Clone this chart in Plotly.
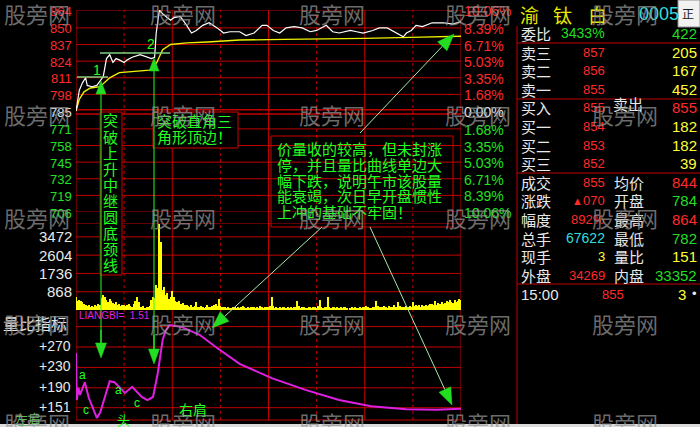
import math
import plotly.graph_objects as go

W, H = 700, 427

# ------------------------------------------------------------------ data
price_ticks = [864, 850, 837, 824, 811, 798, 785, 771, 758, 745, 732, 719, 706]
pct_ticks = ["10.06%", "8.39%", "6.71%", "5.03%", "3.35%", "1.68%", "0.00%",
             "1.68%", "3.35%", "5.03%", "6.71%", "8.39%", "10.06%"]
vol_ticks = [3472, 2604, 1736, 868]
lb_ticks = [270, 230, 190, 151]
lb_tick_text = ["+270", "+230", "+190", "+151"]

price_min = [0, 1, 2, 4, 6, 7, 10, 13, 15, 17, 19, 21, 23, 25, 27, 30, 32, 35, 40, 44,
             47, 49, 50, 52, 54, 57, 59, 61, 65, 69, 72, 75, 79, 83, 88, 92, 96, 102, 106, 111,
             116, 119, 123, 127, 131, 136, 141, 146, 150, 156, 160, 164, 171, 175, 179, 185, 189, 194, 198, 202,
             204, 206, 209, 212, 216, 222, 229, 235, 240]
price_val = [785, 795, 801, 807, 811, 805, 804, 805, 809, 812, 826, 829, 823, 826, 825, 823, 825, 827, 829, 827,
             826, 827, 846, 864, 861, 858, 856, 858, 859, 852, 846, 848, 852, 854, 850, 846, 847, 847, 844, 846,
             852, 852, 848, 846, 850, 851, 850, 847, 848, 852, 847, 846, 848, 847, 846, 848, 850, 850, 847, 844,
             843, 846, 848, 852, 851, 854, 854, 853, 855]

avg_min = [0, 2, 5, 9, 15, 21, 27, 35, 46, 50, 52, 54, 59, 69, 82, 102, 130, 152, 180, 215, 240]
avg_val = [785, 794, 800, 803, 804, 811, 815, 816, 817, 822, 828, 833, 837, 838.3, 839, 840.5, 841,
           841.3, 841.8, 842.8, 843.5]

volume = [
    620, 450, 480, 420, 380, 300, 260, 180, 220, 150,
    200, 160, 240, 180, 280, 220, 560, 720, 640, 480,
    380, 520, 430, 320, 280, 360, 250, 300, 200, 260,
    220, 180, 240, 300, 200, 160, 280, 450, 620, 380,
    150, 120, 180, 100, 140, 130, 200, 480, 600, 560,
    1200, 1050, 4100, 3220, 950, 1100, 720, 800, 520, 640,
    880, 600, 420, 360, 450, 300, 280, 340, 220, 260,
    180, 150, 240, 130, 200, 400, 160, 120, 180, 140,
    100, 160, 220, 120, 140, 180, 260, 300, 200, 520,
    180, 140, 120, 160, 100, 130, 90, 110, 150, 120,
    80, 140, 110, 160, 200, 120, 90, 130, 100, 150,
    120, 160, 90, 140, 110, 180, 130, 100, 160, 120,
    140, 200, 600, 180, 110, 150, 90, 120, 100, 140,
    130, 90, 160, 110, 120, 100, 150, 130, 420, 170,
    90, 120, 140, 100, 110, 160, 130, 90, 120, 140,
    110, 180, 460, 130, 100, 150, 120, 620, 140, 100,
    160, 120, 90, 140, 110, 130, 100, 150, 120, 90,
    0, 80, 120, 100, 140, 90, 110, 130, 100, 150,
    120, 200, 140, 110, 90, 160, 130, 420, 180, 140,
    160, 120, 200, 140, 110, 180, 130, 150, 220, 160,
    140, 400, 180, 120, 160, 140, 200, 130, 180, 160,
    360, 200, 250, 180, 220, 160, 240, 200, 260, 180,
    220, 280, 300, 240, 420, 260, 320, 280, 380, 300,
    340, 420, 360, 460, 400, 320, 480, 380, 440, 500,
    460]
vol_min = list(range(len(volume)))

lb_min = [0, 0.5, 1.5, 2.5, 5.5, 8, 13, 15, 18, 21, 24, 27.5, 30.5, 35, 38.5, 41, 44.5, 48, 51, 54,
          56, 58.5, 66, 77, 88, 102, 122, 143, 164, 184, 206, 225, 240]
lb_val = [258, 166, 190, 176, 201, 170, 131, 141, 172, 203, 201, 190, 180, 192, 180, 172, 166, 172, 219, 284,
          303, 313, 309, 294, 268, 237, 209, 186, 166, 154, 148, 147, 149]

stock_name = ["渝", "钛", "白"]
stock_code = "0005"
q_labels = ["委比", "卖三", "卖二", "卖一", "买入", "买一", "买二", "买三",
            "成交", "涨跌", "幅度", "总手", "现手", "外盘"]
q_mid_values = ["3433%", "857", "856", "855", "855", "854", "853", "852",
                "855", "070", "892%", "67622", "3", "34269"]
q_mid_labels = ["", "", "", "", "卖出", "", "", "", "均价", "开盘", "最高", "最低", "量比", "内盘"]
q_right_values = ["422", "205", "167", "452", "855", "182", "182", "39",
                  "844", "784", "864", "782", "151", "33352"]
last_row = ["15:00", "855", "3"]

note1 = "突破上升中继圆底颈线"
note2 = ["突破直角三", "角形顶边！"]
note3 = ["价量收的较高，但未封涨", "停，并且量比曲线单边大", "幅下跌，说明午市该股量",
         "能衰竭，次日早开盘惯性", "上冲的基础不牢固！"]

# ------------------------------------------------------------------ styles
RED = "#c00000"
TXT_RED = "#ff2a2a"
TXT_GREEN = "#22e022"
GREEN = "#22ff22"
WHITE = "#e8e8e8"
YELLOW = "#ffff33"
CYAN = "#33dddd"
MAG = "#e020e0"
CJK = "Noto Sans CJK SC"
NUM = "Liberation Sans"

mid_colors = ["#22dd22", TXT_RED, TXT_RED, TXT_RED, TXT_RED, TXT_RED, TXT_RED, TXT_RED,
              TXT_RED, TXT_RED, TXT_RED, CYAN, YELLOW, TXT_RED]
right_colors = ["#22dd22", YELLOW, YELLOW, YELLOW, TXT_RED, YELLOW, YELLOW, YELLOW,
                TXT_RED, "#22dd22", TXT_RED, "#22dd22", YELLOW, "#22dd22"]


def xp(px):
    return px / W


def yp(py):
    return 1 - py / H


L_PX, R_PX = 76, 461

fig = go.Figure()
fig.add_trace(go.Bar(x=vol_min, y=volume, width=0.7, marker=dict(color="#ffff00", line=dict(width=0)),
                     xaxis="x", yaxis="y2"))
fig.add_trace(go.Scatter(x=avg_min, y=avg_val, mode="lines", line=dict(color="#f0f000", width=1.4),
                         xaxis="x", yaxis="y"))
fig.add_trace(go.Scatter(x=price_min, y=price_val, mode="lines", line=dict(color="#ffffff", width=1.2),
                         xaxis="x", yaxis="y"))
fig.add_trace(go.Scatter(x=lb_min, y=lb_val, mode="lines", line=dict(color=MAG, width=2),
                         xaxis="x", yaxis="y3"))

shapes = []


def hline_px(py, x0=L_PX, x1=R_PX, color=RED, width=1, dash="solid", layer="below"):
    shapes.append(dict(type="line", xref="paper", yref="paper", x0=xp(x0), x1=xp(x1), y0=yp(py), y1=yp(py),
                       line=dict(color=color, width=width, dash=dash), layer=layer))


def line_px(x0, y0, x1, y1, color, width=1, dash="solid", layer="above"):
    shapes.append(dict(type="line", xref="paper", yref="paper", x0=xp(x0), x1=xp(x1), y0=yp(y0), y1=yp(y1),
                       line=dict(color=color, width=width, dash=dash), layer=layer))


# vertical grid (hours solid, half hours dotted)
for k in range(9):
    shapes.append(dict(type="line", xref="x", yref="paper", x0=k * 30, x1=k * 30, y0=yp(420), y1=yp(10),
                       line=dict(color=RED, width=1, dash="solid" if k % 2 == 0 else "dot"), layer="below"))
# price grid
for v in price_ticks:
    if v == 785:
        continue
    shapes.append(dict(type="line", xref="paper", yref="y", x0=xp(L_PX), x1=xp(R_PX), y0=v, y1=v,
                       line=dict(color=RED, width=1), layer="below"))
for v in (786, 782.6):
    shapes.append(dict(type="line", xref="paper", yref="y", x0=xp(L_PX), x1=xp(R_PX), y0=v, y1=v,
                       line=dict(color=RED, width=1.5), layer="below"))
# volume grid
for v in vol_ticks + [4130, 0]:
    shapes.append(dict(type="line", xref="paper", yref="y2", x0=xp(L_PX), x1=xp(R_PX), y0=v, y1=v,
                       line=dict(color=RED, width=1), layer="below"))
# indicator grid
for v in lb_ticks + [310]:
    shapes.append(dict(type="line", xref="paper", yref="y3", x0=xp(L_PX), x1=xp(R_PX), y0=v, y1=v,
                       line=dict(color=RED, width=1), layer="below"))
hline_px(420)

# right quote panel lines
line_px(517, 26, 517, 427, RED, 1, layer="below")
for py in (43, 99, 173, 284):
    hline_px(py, 517, 700)

# note boxes
shapes.append(dict(type="rect", xref="paper", yref="paper", x0=xp(100), x1=xp(122), y0=yp(275), y1=yp(112),
                   line=dict(color="#d00000", width=1), fillcolor="black", layer="above"))
shapes.append(dict(type="rect", xref="paper", yref="paper", x0=xp(153), x1=xp(238), y0=yp(148), y1=yp(112),
                   line=dict(color="#d00000", width=1), fillcolor="black", layer="above"))
shapes.append(dict(type="rect", xref="paper", yref="paper", x0=xp(271), x1=xp(453), y0=yp(227), y1=yp(136),
                   line=dict(color="#d00000", width=1), layer="above"))

# green drawing marks
line_px(77, 77, 108, 77, "#80d080", 1.5)
line_px(100, 53, 170, 53, "#80d080", 1.5)
line_px(101, 92, 101, 345, GREEN, 1)
line_px(154, 69, 154, 350, GREEN, 1)


def P(px, py):
    return f"{xp(px):.5f},{yp(py):.5f}"


def tri(points, color):
    (a, b, c) = points
    shapes.append(dict(type="path", xref="paper", yref="paper",
                       path=f"M {P(*a)} L {P(*b)} L {P(*c)} Z",
                       fillcolor=color, line=dict(color=color, width=0.5), layer="above"))


tri([(101, 81), (96, 94), (106, 94)], "#22dd22")
tri([(154, 58), (149, 71), (159, 71)], "#22dd22")


def arrow(tail, tip, color_line, head_len=15, half_w=5.5):
    dx, dy = tip[0] - tail[0], tip[1] - tail[1]
    d = math.hypot(dx, dy)
    ux, uy = dx / d, dy / d
    bx, by = tip[0] - head_len * ux, tip[1] - head_len * uy
    line_px(tail[0], tail[1], bx, by, color_line, 1)
    nx, ny = -uy, ux
    tri([tip, (bx + half_w * nx, by + half_w * ny), (bx - half_w * nx, by - half_w * ny)], "#22dd22")


arrow((101, 330), (101, 358), GREEN)
arrow((154, 335), (154, 364), GREEN)
arrow((360, 133), (454, 34), "#a8e8a8", 17, 6.5)
arrow((370, 227), (452, 405), "#a8e8a8", 17, 6.5)
arrow((322, 227), (212, 328), "#a8e8a8", 17, 6.5)

# bottom light strip and code box
shapes.append(dict(type="rect", xref="paper", yref="paper", x0=0, x1=1, y0=0, y1=yp(424),
                   line=dict(width=0), fillcolor="#dcdcdc", layer="above"))
shapes.append(dict(type="rect", xref="paper", yref="paper", x0=xp(678), x1=1, y0=yp(27), y1=1,
                   line=dict(color="#909090", width=1), fillcolor="#f2f2f2", layer="above"))

ann = []


def txt(s, px, py, color, size, anchor="left", family=CJK, yanchor="middle"):
    ann.append(dict(text=s, x=xp(px), y=yp(py), xref="paper", yref="paper", xanchor=anchor,
                    yanchor=yanchor, showarrow=False, font=dict(color=color, size=size, family=family)))


# left price labels & right percentage labels
for i, (v, p) in enumerate(zip(price_ticks, pct_ticks)):
    py = 10 + (864 - v) / 158 * 202
    col = TXT_RED if i < 6 else (WHITE if i == 6 else TXT_GREEN)
    txt(str(v), 74, py + 1, col, 13, "right", NUM)
    txt(p, 462, py + 1, col, 14, "left", NUM)

for v in vol_ticks:
    py = 310 - v / 4130 * 87
    txt(str(v), 74, py, WHITE, 15, "right", NUM)
for v, t in zip(lb_ticks, lb_tick_text):
    py = 347 + (270 - v) * 0.51
    txt(t, 73, py - 1, WHITE, 14, "right", NUM)

txt("量比指标", 1, 323, WHITE, 16)
txt("LIANGBI=  1.51", 77, 315, MAG, 10, "left", NUM)

# notes
for i, ch in enumerate(note1):
    txt(ch, 111, 120 + i * 16.1, GREEN, 15, "center")
txt(note2[0], 155, 121, GREEN, 15)
txt(note2[1], 155, 136, GREEN, 15)
for i, line in enumerate(note3):
    txt(line, 275, 149 + i * 15.6, GREEN, 15)

txt("1", 97, 70, GREEN, 14, "center", NUM)
txt("2", 151, 44, GREEN, 14, "center", NUM)
txt("a", 82, 375, GREEN, 12, "center", NUM)
txt("c", 86, 410, GREEN, 12, "center", NUM)
txt("a", 118, 390, GREEN, 12, "center", NUM)
txt("c", 137, 403, GREEN, 12, "center", NUM)
txt("右肩", 193, 409, GREEN, 14, "center")
txt("头", 124, 419, GREEN, 13, "center")
txt("左肩", 28, 418, "#60c060", 13, "center")

# quote panel
for ch, px in zip(stock_name, (529, 562, 597)):
    txt(ch, px, 14, "#e8e800", 19, "center")
txt(stock_code, 637, 14, CYAN, 18, "left", NUM)
txt("正", 688, 13, "#202020", 12, "center")

for i in range(len(q_labels)):
    py = 33.5 + i * 18.6
    txt(q_labels[i], 519, py, WHITE, 15)
    txt(q_mid_values[i], 607, py, mid_colors[i], 13 if i not in (0, 11) else 14, "right", NUM)
    if q_mid_labels[i]:
        txt(q_mid_labels[i], 611 if i == 4 else 612, py - (4 if i == 4 else 0), WHITE, 15)
    txt(q_right_values[i], 699, py, right_colors[i], 15, "right", NUM)
txt("▲", 577, 33.5 + 9 * 18.6, TXT_RED, 11, "center", NUM)
txt(last_row[0], 519, 294, WHITE, 15, "left", NUM)
txt(last_row[1], 613, 294, TXT_RED, 13, "center", NUM)
txt(last_row[2], 682, 294, YELLOW, 15, "center", NUM)
txt("•", 694, 293, WHITE, 13, "center", NUM)

# watermarks
for wy in (13, 114, 217, 323, 422):
    for wx in (2, 148, 297, 443, 590):
        txt("股旁网", wx, wy, "rgba(150,150,150,0.72)", 22)

ax_hidden = dict(showgrid=False, zeroline=False, showticklabels=False, showline=False, ticks="")
fig.update_layout(
    width=W, height=H, margin=dict(l=0, r=0, t=0, b=0),
    paper_bgcolor="black", plot_bgcolor="black", showlegend=False, bargap=0,
    xaxis=dict(domain=[xp(L_PX), xp(R_PX)], range=[0, 240], **ax_hidden),
    yaxis=dict(domain=[yp(212), yp(10)], range=[706, 864], **ax_hidden),
    yaxis2=dict(domain=[yp(310), yp(223)], range=[0, 4130], **ax_hidden),
    yaxis3=dict(domain=[yp(420), yp(311)], range=[270 - 73 / 0.51, 270 + 36 / 0.51], **ax_hidden),
    shapes=shapes, annotations=ann,
)
fig.write_html("out.html", config={"displayModeBar": False},
               post_script="document.body.style.margin='0';document.body.style.overflow='hidden';"
                           "document.body.style.background='black';")
